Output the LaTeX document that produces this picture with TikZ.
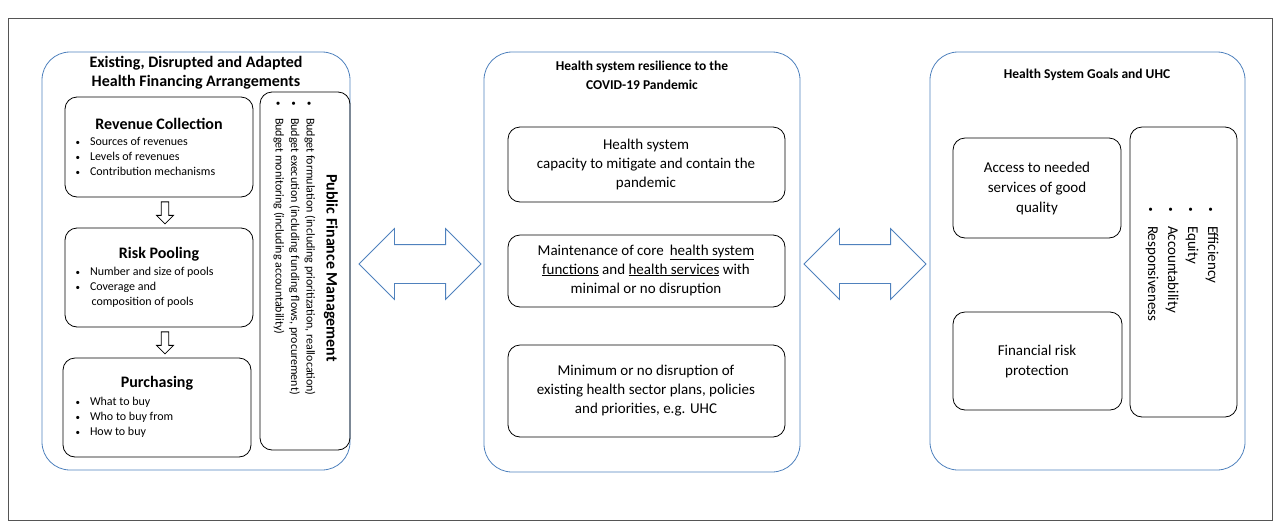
\documentclass[tikz,border=0pt]{standalone}
\usepackage{fontspec}
\setmainfont{Carlito}
\usetikzlibrary{shapes.arrows}
\definecolor{pblue}{HTML}{4f81bd}
\definecolor{fgray}{HTML}{555555}
\newcommand{\bul}{{\small\textbullet}}
\tikzset{
	panel/.style={draw=pblue, thick, rounded corners=28pt},
	box/.style={draw=black, thick, rounded corners=12pt},
	bigarrow/.style={double arrow, draw=pblue, thick, minimum width=70pt, minimum height=122pt, text height=19pt, text depth=19pt, inner sep=0pt, double arrow head extend=16pt},
	downarrow/.style={single arrow, draw=black, thick, shape border rotate=270, minimum width=17pt, minimum height=22pt, single arrow head extend=3pt, inner sep=2pt},
	ttl/.style={font=\bfseries\fontsize{16}{19}\selectfont, align=center},
	txt/.style={font=\fontsize{15}{19}\selectfont, align=center},
	lst/.style={font=\fontsize{12}{15}\selectfont, align=left, anchor=north west},
}
\begin{document}
\begin{tikzpicture}[x=1pt, y=-1pt]
	\useasboundingbox (0,0) rectangle (1280,528);
	\draw[fgray] (8,18) rectangle (1272,520);
	% panels
	\draw[panel] (42,52) rectangle (350,470);
	\draw[panel] (484,52) rectangle (800,472);
	\draw[panel] (930,52) rectangle (1245,470);
	% left panel
	\node[ttl] (lefttitle) at (196,73) {Existing, Disrupted and Adapted\\Health Financing Arrangements};
	\draw[box] (65,97) rectangle (253,197);
	\node[font=\bfseries\fontsize{16}{18}\selectfont] (revenue) at (159,124) {Revenue Collection};
	\node[lst] (revlist) at (72,134) {\bul\hspace{10pt}Sources of revenues\\\bul\hspace{10pt}Levels of revenues\\\bul\hspace{10pt}Contribution mechanisms};
	\draw[box] (65,228) rectangle (253,327);
	\node[font=\bfseries\fontsize{16}{18}\selectfont] (pooling) at (159,254) {Risk Pooling};
	\node[lst] (poollist) at (72,264) {\bul\hspace{10pt}Number and size of pools\\\bul\hspace{10pt}Coverage and\\\hspace{16pt}composition of pools};
	\draw[box] (63,358) rectangle (251,457);
	\node[font=\bfseries\fontsize{16}{18}\selectfont] (purchasing) at (157,383) {Purchasing};
	\node[lst] (purchlist) at (72,394) {\bul\hspace{10pt}What to buy\\\bul\hspace{10pt}Who to buy from\\\bul\hspace{10pt}How to buy};
	\node[downarrow] (down1) at (165,211) {};
	\node[downarrow] (down2) at (165,341) {};
	\draw[box] (260,92) rectangle (350,450);
	\node[rotate=-90, anchor=north west, align=left, font=\fontsize{12}{15.5}\selectfont] (pfmlist) at (319,98)
		{\bul\hspace{12pt}Budget formulation (including prioritization, reallocation)\\\bul\hspace{12pt}Budget execution (including funding flows, procurement)\\\bul\hspace{12pt}Budget monitoring (including accountability)};
	\node[rotate=-90, font=\bfseries\fontsize{16}{18}\selectfont] (pfm) at (331,268) {Public Finance Management};
	% middle panel
	\node[ttl, font=\bfseries\fontsize{13.5}{19}\selectfont] (midtitle) at (642,75) {Health system resilience to the\\COVID-19 Pandemic};
	\draw[box] (508,127) rectangle (785,202);
	\node[txt] (capacity) at (646,164) {Health system\\capacity to mitigate and contain the\\pandemic};
	\draw[box] (508,235) rectangle (785,307);
	\node[txt] (maintenance) at (646,270) {Maintenance of core \,\underline{health system}\\\underline{functions} and \underline{health services} with\\minimal or no disruption};
	\draw[box] (508,345) rectangle (785,437);
	\node[txt] (plans) at (646,391) {Minimum or no disruption of\\existing health sector plans, policies\\and priorities, e.g. UHC};
	% right panel
	\node[ttl, font=\bfseries\fontsize{13.5}{16}\selectfont] (righttitle) at (1087,75) {Health System Goals and UHC};
	\draw[box] (953,138) rectangle (1121,238);
	\node[txt, font=\fontsize{15}{20}\selectfont] (access) at (1037,188) {Access to needed\\services of good\\quality};
	\draw[box] (953,312) rectangle (1122,410);
	\node[txt, font=\fontsize{15}{20}\selectfont] (protection) at (1037,361) {Financial risk\\protection};
	\draw[box] (1130,127) rectangle (1237,417);
	\node[rotate=-90, anchor=north west, align=left, font=\fontsize{15}{20}\selectfont] (goals) at (1222,204)
		{\bul\hspace{14pt}Efficiency\\\bul\hspace{14pt}Equity\\\bul\hspace{14pt}Accountability\\\bul\hspace{14pt}Responsiveness};
	% arrows between panels
	\node[bigarrow] (link1) at (420,264) {};
	\node[bigarrow] (link2) at (865,264) {};
\end{tikzpicture}
\end{document}
